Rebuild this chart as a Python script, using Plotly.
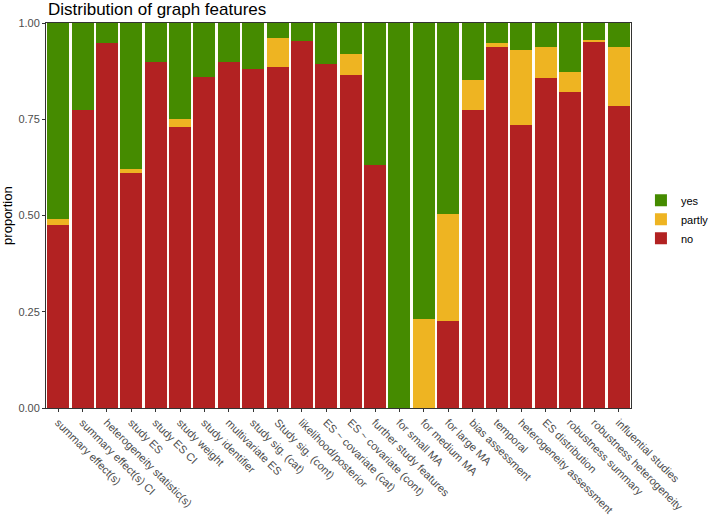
import plotly.graph_objects as go

categories = ["summary effect(s)", "summary effect(s) CI", "heterogeneity statistic(s)",
              "study ES", "study ES CI", "study weight", "study identifier", "multivariate ES",
              "study sig. (cat)", "Study sig. (cont)", "likelihood/posterior",
              "ES ~ covariate (cat)", "ES ~ covariate (cont)", "further study features",
              "for small MA", "for medium MA", "for large MA", "bias assessment", "temporal",
              "heterogeneity assessment", "ES distribution", "robustness summary",
              "robustness heterogeneity", "influential studies"]

no_vals = [0.475, 0.775, 0.948, 0.611, 0.899, 0.731, 0.860, 0.899, 0.880, 0.886, 0.952,
           0.894, 0.866, 0.630, 0.000, 0.000, 0.225, 0.775, 0.938, 0.736, 0.856, 0.822,
           0.952, 0.784]
partly_vals = [0.015, 0.000, 0.000, 0.010, 0.000, 0.020, 0.000, 0.000, 0.000, 0.076, 0.000,
               0.000, 0.053, 0.000, 0.000, 0.230, 0.279, 0.077, 0.009, 0.193, 0.082, 0.050,
               0.005, 0.154]
yes_vals = [0.510, 0.225, 0.052, 0.379, 0.101, 0.249, 0.140, 0.101, 0.120, 0.038, 0.048,
            0.106, 0.081, 0.370, 1.000, 0.770, 0.496, 0.148, 0.053, 0.071, 0.062, 0.128,
            0.043, 0.062]

y_ticks = [0, 0.25, 0.5, 0.75, 1.0]
y_ticklabels = ["0.00", "0.25", "0.50", "0.75", "1.00"]

colors = {"no": "#B22222", "partly": "#EEB422", "yes": "#458B00"}

fig = go.Figure()
for name, vals in [("no", no_vals), ("partly", partly_vals), ("yes", yes_vals)]:
    fig.add_trace(go.Bar(x=categories, y=vals, name=name,
                         marker=dict(color=colors[name], line=dict(width=0))))

fig.update_layout(
    barmode="stack", bargap=0.1,
    width=709, height=516,
    margin=dict(l=46, r=78, t=23, b=108, autoexpand=False),
    paper_bgcolor="white", plot_bgcolor="#FFFDF8",
    font=dict(family="Liberation Sans, Arial, sans-serif", size=11, color="#4D4D4D"),
    legend=dict(traceorder="reversed", x=1.017, xanchor="left", y=0.49, yanchor="middle",
                font=dict(size=11, color="black"), itemwidth=30),
    showlegend=True,
    annotations=[
        dict(text="Distribution of graph features", xref="paper", yref="paper",
             x=0.0, y=1.036, xanchor="left", yanchor="middle", showarrow=False,
             font=dict(size=17, color="black")),
        dict(text="proportion", xref="paper", yref="paper", x=-0.066, y=0.5,
             xanchor="center", yanchor="middle", textangle=-90, showarrow=False,
             font=dict(size=13, color="black")),
    ],
)
fig.update_xaxes(type="category", range=[-0.5, len(categories) - 0.5], tickangle=45,
                 automargin=False,
                 showline=True, linecolor="#333333", linewidth=1, mirror=True,
                 ticks="outside", ticklen=3, tickcolor="#333333", showgrid=False,
                 tickfont=dict(size=11, color="#4D4D4D"))
fig.update_yaxes(range=[0, 1], tickvals=y_ticks, ticktext=y_ticklabels,
                 automargin=False,
                 showline=True, linecolor="#333333", linewidth=1, mirror=True,
                 ticks="outside", ticklen=3, tickcolor="#333333", showgrid=False,
                 zeroline=False,
                 tickfont=dict(size=11, color="#4D4D4D"))

fig.write_html("out.html", config={"displayModeBar": False},
               post_script="document.body.style.margin='0';")
